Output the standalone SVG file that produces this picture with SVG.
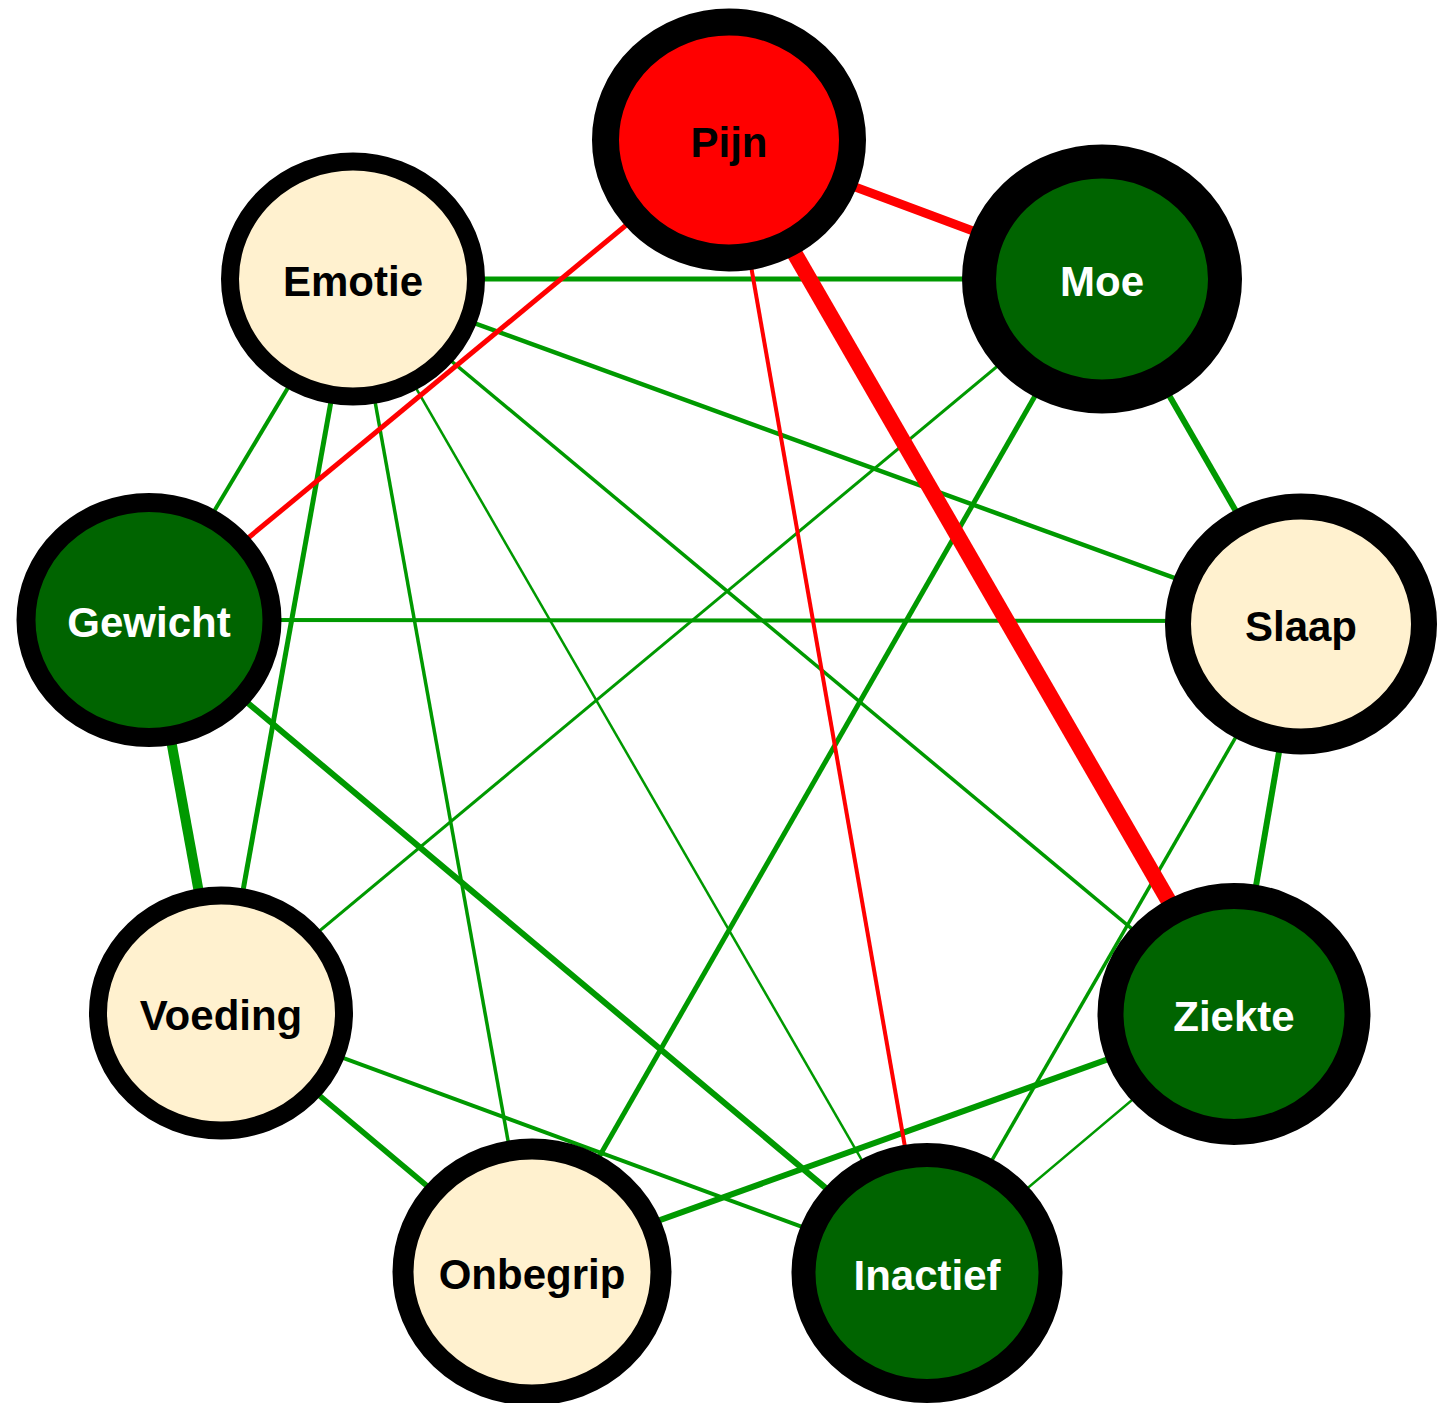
<svg xmlns="http://www.w3.org/2000/svg" width="1439" height="1403" viewBox="0 0 1439 1403">
<style>
.e{stroke:#009900;fill:none}
.r{stroke:#ff0000;fill:none}
.n{stroke:#000}
.red{fill:#ff0000}
.grn{fill:#006400}
.crm{fill:#fff1cf}
text{font-family:"Liberation Sans",Arial,sans-serif;font-weight:bold;font-size:42px;text-anchor:middle}
.dk{fill:#000}
.lt{fill:#fff}
</style>
<rect width="1439" height="1403" fill="#fff"/>
<g id="connectors">
<line class="e" x1="353" y1="279" x2="1102" y2="279" stroke-width="5"/>
<line class="e" x1="353" y1="279" x2="1301" y2="624" stroke-width="4.5"/>
<line class="e" x1="353" y1="279" x2="1234" y2="1014" stroke-width="3.5"/>
<line class="e" x1="353" y1="279" x2="927" y2="1273" stroke-width="2.5"/>
<line class="e" x1="353" y1="279" x2="532" y2="1274" stroke-width="3.5"/>
<line class="e" x1="353" y1="279" x2="221" y2="1013" stroke-width="5"/>
<line class="e" x1="353" y1="279" x2="149" y2="620" stroke-width="4"/>
<line class="e" x1="1102" y1="279" x2="1301" y2="624" stroke-width="6"/>
<line class="e" x1="1102" y1="279" x2="221" y2="1013" stroke-width="3"/>
<line class="e" x1="1102" y1="279" x2="532" y2="1274" stroke-width="5"/>
<line class="e" x1="149" y1="620" x2="1301" y2="621" stroke-width="4"/>
<line class="e" x1="149" y1="620" x2="221" y2="1013" stroke-width="10"/>
<line class="e" x1="149" y1="620" x2="927" y2="1273" stroke-width="6"/>
<line class="e" x1="1301" y1="624" x2="1234" y2="1014" stroke-width="6"/>
<line class="e" x1="1301" y1="624" x2="927" y2="1273" stroke-width="3.5"/>
<line class="e" x1="1234" y1="1014" x2="532" y2="1266" stroke-width="6"/>
<line class="e" x1="1234" y1="1014" x2="927" y2="1273" stroke-width="2.5"/>
<line class="e" x1="221" y1="1013" x2="532" y2="1274" stroke-width="5.5"/>
<line class="e" x1="221" y1="1013" x2="927" y2="1273" stroke-width="4"/>
<line class="r" x1="729" y1="140" x2="1102" y2="279" stroke-width="9"/>
<line class="r" x1="729" y1="140" x2="1234" y2="1014" stroke-width="16"/>
<line class="r" x1="729" y1="140" x2="149" y2="620" stroke-width="5"/>
<line class="r" x1="729" y1="140" x2="927" y2="1273" stroke-width="4"/>
</g>
<g id="node-pijn"><ellipse class="n red" cx="729" cy="140" rx="123.5" ry="118" stroke-width="27"/><text class="dk" x="729" y="157">Pijn</text></g>
<g id="node-moe"><ellipse class="n grn" cx="1102" cy="279" rx="123" ry="117.5" stroke-width="34"/><text class="lt" x="1102" y="296">Moe</text></g>
<g id="node-emotie"><ellipse class="n crm" cx="353" cy="279" rx="123" ry="117.5" stroke-width="18"/><text class="dk" x="353" y="296">Emotie</text></g>
<g id="node-slaap"><ellipse class="n crm" cx="1301" cy="624" rx="123" ry="117.5" stroke-width="26"/><text class="dk" x="1301" y="641">Slaap</text></g>
<g id="node-gewicht"><ellipse class="n grn" cx="149" cy="620" rx="123" ry="117.5" stroke-width="19"/><text class="lt" x="149" y="637">Gewicht</text></g>
<g id="node-ziekte"><ellipse class="n grn" cx="1234" cy="1014" rx="123.5" ry="118" stroke-width="26"/><text class="lt" x="1234" y="1031">Ziekte</text></g>
<g id="node-voeding"><ellipse class="n crm" cx="221" cy="1013" rx="123" ry="117.5" stroke-width="18"/><text class="dk" x="221" y="1030">Voeding</text></g>
<g id="node-onbegrip"><ellipse class="n crm" cx="532" cy="1272" rx="129" ry="123" stroke-width="21"/><text class="dk" x="532" y="1289">Onbegrip</text></g>
<g id="node-inactief"><ellipse class="n grn" cx="927" cy="1273" rx="123.5" ry="118" stroke-width="24"/><text class="lt" x="927" y="1290">Inactief</text></g>
</svg>
